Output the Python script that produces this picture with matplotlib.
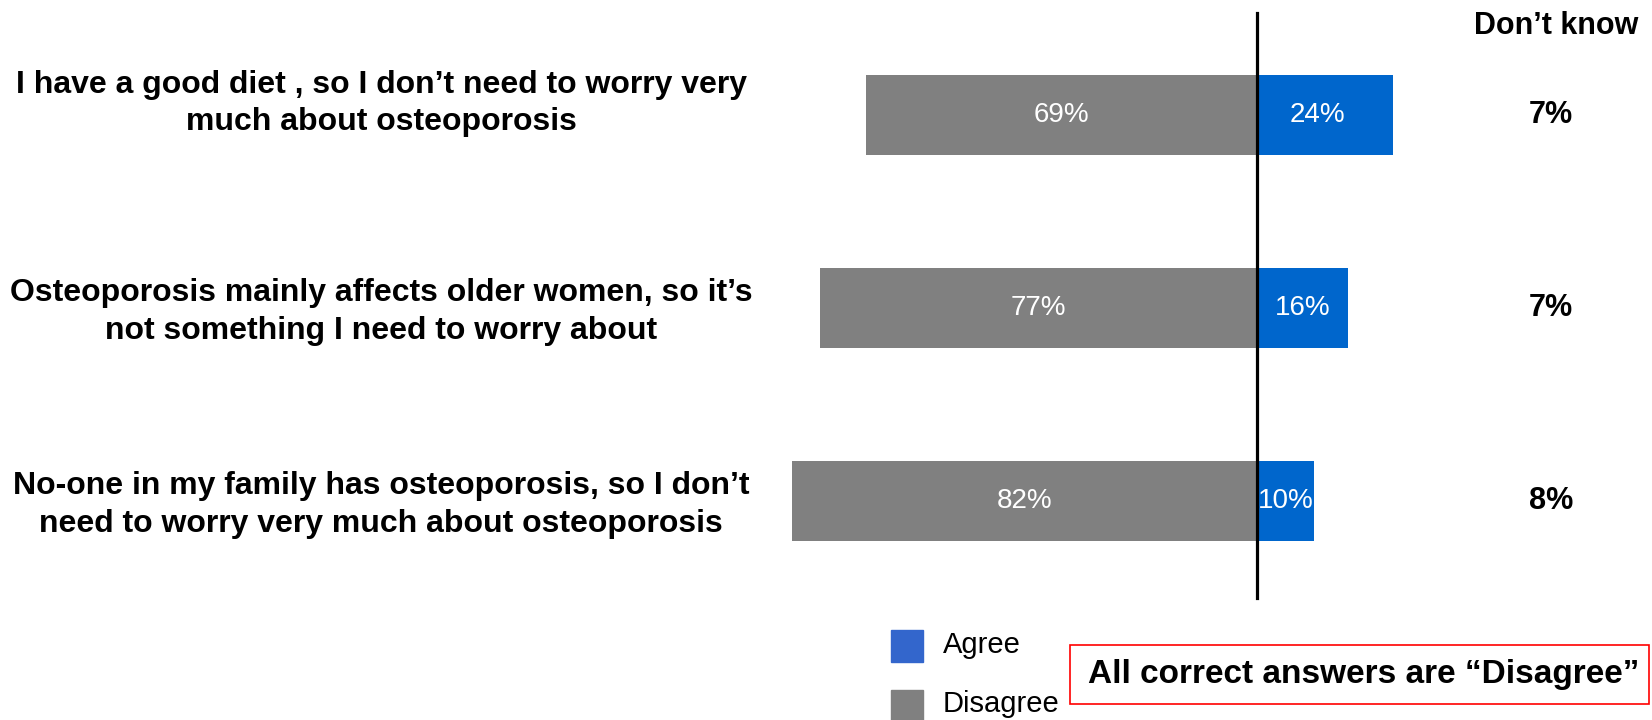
import matplotlib.pyplot as plt
from matplotlib.patches import Rectangle

plt.rcParams['font.family'] = ['Liberation Sans', 'DejaVu Sans']

statements = [
    "I have a good diet , so I don\u2019t need to worry very\nmuch about osteoporosis",
    "Osteoporosis mainly affects older women, so it\u2019s\nnot something I need to worry about",
    "No-one in my family has osteoporosis, so I don\u2019t\nneed to worry very much about osteoporosis",
]
disagree = [69, 77, 82]
agree = [24, 16, 10]
dont_know = [7, 7, 8]

GRAY = '#808080'
BLUE = '#0066cc'
W, H = 1652, 720
CENTER_PX = 1257
PX_PER_PCT = 5.67
ROW_PX = 193
FIRST_ROW_PX = 115

fig = plt.figure(figsize=(W / 100, H / 100), dpi=100)
ax = fig.add_axes([0, 0, 1, 1])
ax.set_xlim(-CENTER_PX / PX_PER_PCT, (W - CENTER_PX) / PX_PER_PCT)
ax.set_ylim((H - FIRST_ROW_PX) / ROW_PX, -FIRST_ROW_PX / ROW_PX)
ax.axis('off')

ypos = list(range(len(statements)))
BAR_H = 0.41
ax.barh(ypos, [-d for d in disagree], BAR_H, color=GRAY, zorder=2)
ax.barh(ypos, agree, BAR_H, color=BLUE, zorder=2)

for y, d, a, dk, s in zip(ypos, disagree, agree, dont_know, statements):
    ax.text(-d / 2, y, f'{d}%', color='white', fontsize=20, ha='center', va='center', zorder=4)
    ax.text(a / 2 - (1.3 if a > 20 else 0), y, f'{a}%', color='white', fontsize=20,
            ha='center', va='center', zorder=4)
    ax.text(1551 / W, y, f'{dk}%', transform=ax.get_yaxis_transform(),
            fontsize=22, fontweight='bold', ha='center', va='center')
    ax.text(381 / W, y + (-0.06 if y == 0 else 0.02), s, transform=ax.get_yaxis_transform(),
            fontsize=23, fontweight='bold', ha='center', va='center',
            multialignment='center', linespacing=1.32)

# vertical divider
ax.axvline(0, ymin=1 - 598 / H, ymax=1 - 13 / H, color='black', lw=2.3, zorder=3)

fig.text(1638 / W, 1 - 26 / H, 'Don\u2019t know', fontsize=22, fontweight='bold',
         ha='right', va='center')

# legend
fig.add_artist(Rectangle((891 / W, 1 - 662 / H), 32 / W, 32 / H,
                         transform=fig.transFigure, color='#3366cc'))
fig.add_artist(Rectangle((891 / W, 1 - 722 / H), 32 / W, 32 / H,
                         transform=fig.transFigure, color=GRAY))
fig.text(943 / W, 1 - 645 / H, 'Agree', fontsize=21, va='center')
fig.text(943 / W, 1 - 704 / H, 'Disagree', fontsize=21, va='center')

# note box
fig.add_artist(Rectangle((1070 / W, 1 - 704 / H), 579 / W, 59 / H,
                         transform=fig.transFigure, fill=False, edgecolor='#ff0000', lw=1.2))
fig.text(1364 / W, 1 - 674 / H, 'All correct answers are \u201cDisagree\u201d',
         fontsize=24, fontweight='bold', ha='center', va='center')

fig.savefig('out.png', dpi=100)
